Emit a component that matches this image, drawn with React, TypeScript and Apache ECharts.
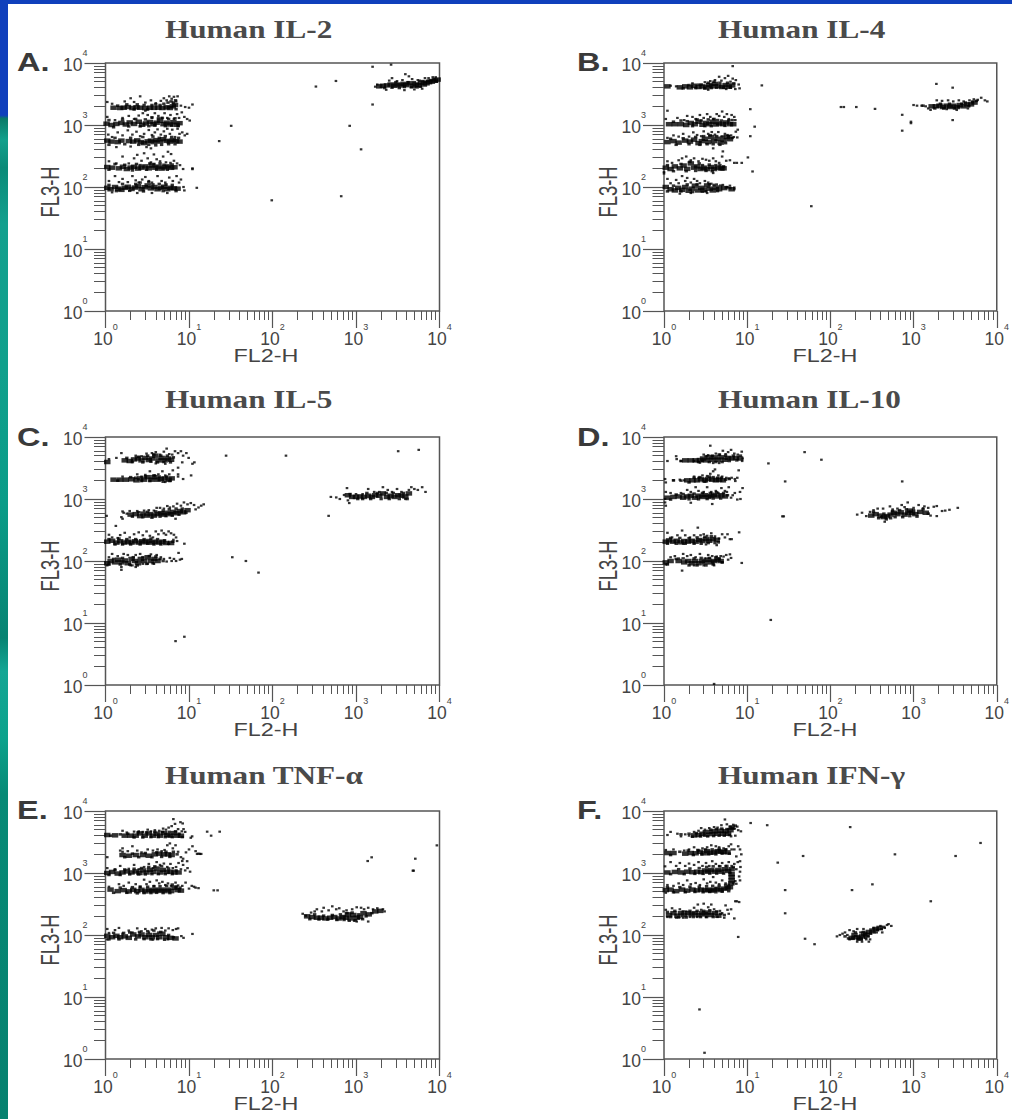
import React, { useEffect, useRef } from "react";
import * as echarts from "echarts";

const TITLES = ["Human IL-2", "Human IL-4", "Human IL-5", "Human IL-10", "Human TNF-α", "Human IFN-γ"];
const LETTERS = ["A.", "B.", "C.", "D.", "E.", "F."];
const X_NAME = "FL2-H";
const Y_NAME = "FL3-H";
const TICK_EXPONENTS = [0, 1, 2, 3, 4];
const MAJOR_TICKS = [1, 10, 100, 1000, 10000];
const MINOR_TICKS = [2,3,4,5,6,7,8,9,20,30,40,50,60,70,80,90,200,300,400,500,600,700,800,900,2000,3000,4000,5000,6000,7000,8000,9000];

const aDense = [
[1.05,97],[1.15,92],[1.3,100],[1.42,94],[1.55,90],[1.7,97],[1.85,101],[2.05,93],[2.25,98],[2.45,103],[2.7,92],[2.95,99],[3.2,106],[3.5,95],[3.85,100],[4.2,92],[4.6,97],[5.05,101],[5.5,92],[6.0,97],[6.6,95],[7.3,94],
[1.05,210],[1.2,205],[1.45,200],[1.62,212],[1.8,195],[2.0,206],[2.2,212],[2.45,198],[2.7,205],[3.0,215],[3.3,200],[3.6,222],[3.95,205],[4.3,213],[4.7,198],[5.1,207],[5.6,215],[6.1,204],[6.7,208],
[1.05,560],[1.18,540],[1.4,530],[1.55,560],[1.9,550],[2.15,540],[2.4,565],[2.65,530],[2.9,510],[3.2,545],[3.5,560],[3.8,530],[4.1,570],[4.5,540],[4.9,590],[5.4,555],[5.9,540],[6.4,570],[7.0,550],[7.7,540],
[1.03,1050],[1.18,1000],[1.35,1040],[1.55,1080],[1.75,1020],[1.95,1100],[2.2,1040],[2.5,1130],[2.75,1010],[3.05,1060],[3.4,1120],[3.75,1030],[4.1,1090],[4.5,1170],[4.95,1030],[5.4,1090],[5.9,1020],[6.5,1110],[7.1,1010],[7.7,1070],
[1.25,1900],[1.5,1880],[1.65,1900],[1.85,1950],[2.1,1880],[2.35,1930],[2.6,1900],[3.0,1870],[3.4,1900],[3.8,1890],[4.3,1900],[4.8,1880],[5.4,1930],[5.9,1880],[6.4,2000],[6.8,2100],
[1900,4200],[2100,4300],[2350,4350],[2600,4500],[2850,4300],[3100,4500],[3400,4350],[3700,4600],[4000,4400],[4400,4700],[4800,4300],[5200,4500],[5600,4400],[6000,4800],[6500,4500],[7000,4700],[7500,4900],[8100,5000],[8800,5200],[9500,5400],
];
const aMid = [
[1.1,108],[1.35,86],[1.6,112],[1.95,87],[2.3,112],[2.6,118],[2.85,85],[3.3,120],[3.7,110],[4.4,112],[4.9,86],[5.3,110],[6.3,108],[7.0,86],
[1.1,190],[1.3,235],[1.7,228],[2.1,185],[2.35,235],[2.6,225],[3.1,190],[3.4,240],[3.8,235],[4.1,190],[4.5,240],[5.0,228],[5.5,190],[6.3,230],
[1.1,480],[1.3,620],[1.7,490],[2.0,620],[2.5,480],[2.8,640],[3.3,480],[3.7,650],[4.0,470],[4.4,620],[4.7,480],[5.2,660],[5.7,490],[6.2,640],[6.8,490],[7.5,620],
[1.1,1200],[1.25,920],[1.6,1220],[1.9,950],[2.3,1250],[2.6,950],[3.0,1230],[3.3,960],[3.6,1330],[3.9,980],[4.3,1280],[4.8,1300],[5.2,960],[5.7,1250],[6.2,980],[6.8,1280],[7.4,960],
[1.4,2050],[1.8,2150],[2.2,1780],[2.4,2150],[2.9,2100],[3.2,1780],[3.6,2100],[4.0,2150],[4.5,2100],[5.0,2200],[5.6,2300],[6.1,2400],[6.5,2300],[6.9,2500],[7.0,1800],
[2200,3950],[2700,4000],[3000,4900],[3300,3950],[3800,4100],[4200,4900],[4600,4050],[5000,4900],[5400,4050],[5900,4150],[6300,5100],[6800,5000],[7300,5200],[7900,5300],[8600,5500],[9200,5000],
];
const aSparse = [
[1580,8700],[2630,9400],[331,4170],[575,5130],[1580,2140],[32,970],[840,970],[23,550],[1150,405],[98,61],[665,71],[12.4,97],[11,194],[11,200],[11,2140],
[1.1,125],[1.3,150],[1.45,120],[1.6,135],[1.85,120],[2.1,150],[2.3,128],[2.5,118],[2.75,132],[3.0,145],[3.3,125],[3.6,118],[4.2,150],[4.7,125],[5.2,118],[5.8,142],[6.4,125],[7.1,150],[7.6,118],[8.0,132],[8.6,100],[8.8,88],[1.2,82],[2.4,80],[3.6,80],[5.5,80],
[1.1,260],[1.35,240],[1.6,310],[1.9,240],[2.2,290],[2.4,330],[2.7,265],[2.9,350],[3.2,290],[3.5,250],[3.8,335],[4.1,280],[4.5,260],[4.9,310],[5.3,250],[5.6,370],[6.1,340],[6.6,265],[7.2,240],[7.8,225],[8.5,195],[6.0,245],
[1.08,700],[1.2,640],[1.4,760],[1.6,680],[1.85,820],[2.1,700],[2.35,780],[2.6,660],[2.9,720],[3.3,830],[3.6,690],[3.9,760],[4.2,850],[4.6,700],[5.0,790],[5.5,870],[5.9,720],[6.3,840],[6.8,640],[7.3,870],[7.7,720],[8.3,760],[8.9,680],[9.5,720],[1.35,440],[2.0,450],[3.1,440],[3.5,420],
[1.05,1350],[1.3,1200],[1.6,1300],[1.9,1400],[2.2,1250],[2.5,1420],[2.8,1550],[3.0,1700],[3.2,1450],[3.6,1300],[3.9,1550],[4.3,1400],[4.7,1300],[5.1,1550],[5.5,1300],[6.0,1450],[6.6,1250],[7.2,1500],[7.6,1300],[8.2,1600],[8.8,1350],[9.5,1250],[10.2,1180],
[1.05,2350],[1.2,2200],[1.7,2400],[2.0,2700],[2.2,2350],[2.6,2900],[3.0,2300],[3.5,2500],[4.0,2250],[4.6,2450],[5.0,2700],[5.4,2500],[5.8,2900],[6.2,2650],[6.6,2850],[7.0,2400],[7.3,2900],[8.0,2050],[9.0,1950],[10.0,1900],
[1700,4150],[1800,4500],[2500,5200],[2700,5700],[3100,5100],[3600,5300],[3900,6600],[4300,6100],[4700,5500],[5500,5300],[5800,5200],[6700,5700],[7400,5700],[8300,5900],[9000,5900],[2300,3700],[3800,3650],[5000,3750],[6200,3850],
];

const bDense = [
[1.05,100],[1.2,92],[1.35,88],[1.48,97],[1.65,90],[1.8,100],[1.98,87],[2.15,94],[2.35,105],[2.55,88],[2.8,97],[3.0,90],[3.3,106],[3.55,94],[3.85,88],[4.2,98],[4.6,92],[5.3,96],[6.5,92],
[1.05,205],[1.2,195],[1.35,215],[1.55,200],[1.72,222],[1.9,196],[2.1,240],[2.3,205],[2.5,215],[2.75,195],[3.0,205],[3.3,195],[3.65,210],[4.0,195],[4.4,205],[4.9,198],[5.2,200],
[1.1,530],[1.3,550],[1.5,520],[1.8,560],[2.05,540],[2.3,580],[2.6,510],[2.85,550],[3.1,600],[3.4,530],[3.7,640],[4.0,550],[4.4,600],[4.8,520],[5.2,570],[5.7,640],[6.2,590],
[1.15,1030],[1.35,1030],[1.6,1030],[1.85,1000],[2.1,1080],[2.35,1030],[2.6,1130],[2.9,1010],[3.2,1080],[3.5,1030],[3.85,1130],[4.2,1020],[4.6,1060],[5.1,1030],[5.6,1100],[6.2,1030],[6.8,1030],
[1.1,4200],[1.55,4050],[1.8,4200],[2.05,4050],[2.3,4300],[2.6,4100],[2.9,4200],[3.2,4050],[3.5,4400],[3.8,4200],[4.1,4600],[4.5,4250],[5.0,4100],[5.5,4400],[6.0,4150],[6.6,4350],
[1650,2000],[1850,2000],[2050,2050],[2250,1950],[2500,2050],[2750,1950],[3000,2050],[3300,1950],[3600,2100],[4000,2000],[4400,2150],[4900,2150],[5400,2300],
];
const bMid = [
[1.1,85],[1.3,105],[1.6,85],[1.9,110],[2.2,83],[2.5,110],[2.9,84],[3.2,85],[3.5,110],[4.0,108],[4.4,86],[4.8,105],[5.6,98],[6.2,96],
[1.1,225],[1.3,180],[1.6,235],[1.85,180],[2.05,255],[2.4,182],[2.65,240],[2.9,225],[3.2,182],[3.5,230],[3.8,180],[4.2,225],[4.7,225],[5.2,215],
[1.2,600],[1.4,480],[1.7,610],[2.0,490],[2.4,640],[2.7,480],[3.0,660],[3.3,490],[3.6,680],[3.9,490],[4.3,660],[4.7,480],[5.1,650],[5.5,510],[6.0,660],[6.6,620],
[1.3,1130],[1.6,1180],[1.9,1150],[2.2,960],[2.5,1230],[2.8,1180],[3.1,960],[3.4,1230],[3.7,960],[4.0,1250],[4.4,1200],[4.9,1180],[5.4,970],[6.0,1180],[6.6,1200],
[1.7,3900],[2.0,4400],[2.4,3950],[2.8,4500],[3.1,3900],[3.4,4800],[3.7,3950],[4.0,5000],[4.3,4000],[4.7,4800],[5.2,4000],[5.8,4800],[6.3,4000],[6.9,4700],
[1800,1850],[2100,2200],[2300,1850],[2700,2200],[3100,1850],[3500,1950],[3800,2200],[4200,2300],[4600,2000],[5100,2350],[5700,2450],[1300,2050],
];
const bSparse = [
[6.7,8900],[15,4350],[10.9,1800],[12.3,940],[10.9,660],[10.2,300],[11.6,178],[8.6,245],[7.5,245],[134,1950],[145,1950],[205,1950],[344,1820],[59,49],[730,1460],[930,1070],[930,1130],[730,810],[1880,4600],[2950,4000],[2950,1200],
[1.1,135],[1.2,115],[1.4,130],[1.5,115],[1.65,150],[1.8,125],[1.9,140],[2.1,118],[2.3,135],[2.5,125],[2.7,115],[3.1,125],[3.4,118],[3.7,113],[4.3,110],[5.1,108],[5.8,100],[6.2,105],[7.0,98],[7.0,92],[1.55,78],[2.1,80],[3.3,80],
[1.1,260],[1.25,245],[1.5,270],[1.65,290],[1.85,310],[2.1,270],[2.3,290],[2.6,260],[2.9,285],[3.2,275],[3.5,265],[3.9,290],[4.2,260],[4.6,245],[5.0,310],[5.6,265],[6.2,270],[7.0,245],[1.0,175],[1.0,165],[3.9,168],
[1.1,620],[1.3,680],[1.5,650],[1.7,720],[2.0,650],[2.25,760],[2.5,690],[2.8,660],[3.0,790],[3.4,720],[3.75,770],[4.1,700],[4.5,770],[4.9,650],[5.4,720],[5.8,690],[6.4,680],[6.9,640],[7.3,780],[7.7,840],[7.6,630],[3.9,420],[5.1,375],
[1.05,1250],[1.1,1700],[1.45,1300],[1.75,1200],[1.9,1400],[2.2,1350],[2.4,1250],[2.7,1450],[3.0,1300],[3.3,1500],[3.6,1350],[3.9,1250],[4.3,1500],[4.6,1400],[5.0,1650],[5.3,1350],[5.7,1500],[6.0,1250],[6.5,1450],[7.0,1350],[7.2,1200],
[1.2,4300],[1.4,4200],[2.2,4700],[2.6,4500],[3.1,4900],[3.6,5100],[4.1,5300],[4.6,6000],[4.9,5200],[5.4,5700],[5.9,6200],[6.3,5000],[6.7,5600],[7.3,5300],[7.9,4500],[7.2,3800],[8.1,3900],[5.6,3800],[3.4,3700],
[1000,2100],[1100,2050],[1250,2050],[1400,2000],[1500,1850],[1900,2500],[2200,2450],[2600,2500],[3000,2400],[3500,2500],[4000,2400],[4700,2500],[5300,2600],[5900,2550],[6500,2750],[7200,2500],[7700,2400],[1600,1750],[2500,1800],[3300,1750],[4500,1850],
];

const cDense = [
[1.05,92],[1.15,100],[1.3,95],[1.42,105],[1.55,95],[1.7,102],[1.85,92],[2.05,108],[2.25,100],[2.45,92],[2.65,108],[2.9,100],[3.2,115],[3.5,100],[3.85,108],[4.2,100],
[1.05,205],[1.2,212],[1.35,198],[1.5,208],[1.68,198],[1.85,205],[2.05,198],[2.25,208],[2.5,198],[2.75,208],[3.0,200],[3.3,210],[3.6,198],[3.95,205],[4.35,198],[4.8,205],[5.3,195],[6.1,195],
[2.0,560],[2.3,570],[2.6,530],[2.85,580],[3.15,540],[3.45,570],[3.8,540],[4.2,570],[4.6,590],[5.0,560],[5.5,600],[6.0,570],[6.5,620],[7.1,590],[7.8,640],[8.5,610],[9.6,660],
[1.25,2050],[1.5,2050],[1.75,2050],[2.05,2080],[2.35,2000],[2.6,2150],[2.9,2050],[3.2,2250],[3.55,2050],[3.85,2250],[4.2,2050],[4.6,2100],[5.1,2150],[5.7,2050],[6.2,2150],
[1.7,4200],[1.95,4100],[2.2,4350],[2.45,4500],[2.7,4200],[3.0,4600],[3.3,4250],[3.6,4500],[3.95,5000],[4.3,4200],[4.7,4600],[5.1,4200],[5.6,4500],[6.1,4300],[1.05,3950],
[800,1150],[900,1080],[1000,1080],[1120,1100],[1250,1080],[1400,1130],[1550,1080],[1700,1150],[1900,1130],[2100,1230],[2350,1080],[2600,1130],[2900,1080],[3200,1150],[3500,1130],[3900,1100],[4300,1230],
];
const cMid = [
[1.1,88],[1.25,108],[1.5,88],[1.6,112],[1.95,88],[2.15,115],[2.4,85],[2.8,115],[3.1,90],[3.35,120],[3.7,92],[4.0,118],[4.5,108],[4.9,100],
[1.1,225],[1.3,185],[1.45,230],[1.6,185],[1.8,225],[2.0,185],[2.3,225],[2.6,185],[2.9,225],[3.2,190],[3.5,230],[3.8,185],[4.2,225],[4.6,185],[5.1,215],[5.7,190],[6.4,205],
[2.1,520],[2.5,610],[2.8,510],[3.2,620],[3.6,500],[4.0,630],[4.5,520],[4.9,650],[5.3,530],[5.8,680],[6.3,540],[7.0,700],[7.6,560],[8.3,700],[9.2,600],
[1.4,1980],[2.0,2250],[2.3,2200],[2.7,1950],[3.0,2300],[3.4,1950],[3.8,2400],[4.4,2300],[4.9,1900],[5.4,2300],[5.9,1950],
[1.8,4600],[2.1,3950],[2.5,4800],[2.8,3900],[3.2,5000],[3.5,4000],[3.8,5200],[4.2,3900],[4.6,5000],[5.0,3950],[5.5,5000],[6.0,3900],[6.5,4700],
[850,1200],[1050,1000],[1200,1000],[1350,1250],[1500,1000],[1800,1250],[2000,1000],[2300,1250],[2500,1000],[2800,1250],[3300,1000],[3700,1250],[4100,1000],
];
const cSparse = [
[27.8,5000],[145,5000],[3200,5900],[5640,6200],[33,115],[48,100],[68,65],[6.9,5.1],[8.8,6],[470,535],[1.33,368],[1.03,535],[8.8,190],[10.6,2400],[11.6,3900],[11,3700],
[1.05,85],[1.1,115],[1.2,130],[1.4,120],[1.55,80],[1.65,130],[1.85,125],[2.1,85],[2.3,80],[2.3,125],[2.6,130],[2.8,90],[3.2,90],[3.5,128],[3.8,90],[4.1,125],[4.6,115],[5.0,108],[5.4,98],[5.9,112],[6.2,100],[6.6,108],[7.0,100],[7.8,105],[8.2,108],[7.5,135],[1.55,72],[2.0,85],
[1.1,265],[1.2,240],[1.4,235],[1.5,262],[1.7,285],[1.95,240],[2.2,270],[2.5,290],[2.8,260],[3.1,300],[3.4,255],[3.7,240],[4.0,300],[4.3,270],[4.7,310],[5.0,280],[5.3,265],[5.7,300],[6.1,280],[6.6,265],[7.0,240],[7.2,210],[6.5,220],
[1.6,630],[1.55,510],[1.65,600],[1.8,580],[1.95,640],[2.4,640],[2.9,650],[3.3,660],[3.8,650],[4.1,720],[4.5,720],[5.0,700],[5.5,770],[5.9,730],[6.5,760],[7.2,840],[8.0,780],[8.7,880],[9.6,820],[10.5,860],[11.5,800],[13,730],[14,780],[15,820],[12,680],[6.9,480],[1.6,480],
[2.4,2500],[2.7,2300],[3.0,2450],[3.4,2800],[3.9,2400],[4.3,2500],[4.8,2800],[5.2,2400],[5.8,2500],[6.4,2900],[7.4,3200],[7.4,2500],[7.4,2300],[8.5,2100],[5.2,1880],[1.6,2300],
[1.1,4400],[1.35,4600],[1.55,5500],[2.3,5000],[2.7,4900],[3.1,5400],[3.6,5500],[4.0,5700],[4.5,5200],[5.0,5800],[5.4,6500],[5.8,5300],[6.3,5200],[6.8,5900],[7.4,5500],[8.0,5900],[8.5,5000],[9.3,5500],[9.9,4600],[8.3,3900],[5.2,3700],[4.0,3750],
[500,1080],[580,1060],[640,1000],[720,1160],[780,1500],[800,950],[830,860],[1000,1200],[1200,1200],[1400,1450],[1650,1300],[1900,1300],[2100,1550],[2400,1400],[2700,1300],[3100,1450],[3500,1300],[3900,1000],[4300,1400],[4600,1550],[5000,1450],[5500,1400],[6200,1550],[6800,1300],
];

const dDense = [
[1.05,95],[1.2,100],[1.5,100],[1.75,95],[1.95,100],[2.15,92],[2.35,100],[2.6,92],[2.85,100],[3.1,95],[3.4,105],[3.7,95],[4.0,100],[4.4,105],[4.8,100],
[1.05,205],[1.15,215],[1.28,205],[1.42,212],[1.58,200],[1.75,210],[1.95,205],[2.15,212],[2.4,205],[2.65,218],[2.9,210],[3.2,225],[3.5,212],[3.85,225],[4.3,220],
[1.1,1050],[1.3,1080],[1.5,1100],[1.7,1050],[1.9,1100],[2.1,1130],[2.35,1050],[2.6,1130],[2.85,1080],[3.1,1150],[3.4,1080],[3.7,1120],[4.0,1170],[4.4,1100],[4.9,1150],[5.4,1100],
[1.9,2000],[2.2,2000],[2.5,2000],[2.8,2080],[3.1,2000],[3.4,2100],[3.8,2050],[4.2,2000],[4.6,2050],[5.1,2000],
[1.8,4200],[2.1,4200],[2.4,4200],[2.7,4250],[2.95,4500],[3.2,4200],[3.5,4700],[3.8,4300],[4.1,4700],[4.5,4300],[4.9,4700],[5.4,4300],[5.9,4600],[6.5,4500],[7.3,4600],[8.2,4500],
[310,540],[350,570],[400,540],[440,510],[480,530],[530,560],[580,600],[640,570],[700,610],[780,560],[860,600],[960,600],[1050,570],[1200,620],[1400,600],[900,650],
];
const dMid = [
[1.1,88],[1.4,108],[1.7,110],[2.0,85],[2.3,110],[2.5,85],[2.8,112],[3.2,85],[3.5,112],[3.9,88],[4.2,115],[4.6,110],[5.0,95],
[1.1,190],[1.2,235],[1.4,190],[1.55,235],[1.8,190],[2.0,232],[2.3,190],[2.5,240],[2.8,190],[3.1,245],[3.4,195],[3.7,250],[4.1,195],[4.5,200],
[1.2,980],[1.4,1180],[1.7,1200],[2.0,990],[2.3,1220],[2.6,990],[2.9,1250],[3.3,1000],[3.6,1250],[3.9,1020],[4.3,1280],[4.8,1020],[5.2,1250],[5.8,1150],
[1.3,2000],[1.6,1980],[2.0,1850],[2.3,2200],[2.7,2250],[3.1,1900],[3.5,2300],[3.9,2250],[4.4,2200],[4.9,2200],[5.5,2050],[6.1,2100],
[1.6,4100],[2.6,3950],[2.9,4100],[3.2,4900],[3.5,3950],[3.8,5000],[4.2,3950],[4.6,5200],[5.0,3950],[5.5,5000],[6.1,4100],[6.8,5000],[7.5,4200],[8.3,5000],
[330,620],[380,490],[440,580],[470,470],[530,490],[560,640],[600,510],[680,660],[740,510],[820,680],[900,530],[1000,660],[1100,520],[1300,680],[1500,580],
];
const dSparse = [
[3.6,7240],[49,5700],[78,4300],[18,3750],[28.6,1920],[730,1920],[26.5,525],[27.5,525],[19.2,11.2],[4,1.04],[8.6,93],[8,290],
[1.05,88],[1.2,115],[1.35,120],[1.5,110],[1.7,130],[1.9,120],[2.1,125],[2.4,115],[2.7,130],[3.1,110],[3.4,125],[3.8,120],[4.3,118],[4.8,120],[5.2,118],[5.6,125],[5.9,105],[6.2,128],[6.4,112],[1.65,70],[2.3,85],[3.0,85],[4.0,85],[5.0,95],
[1.1,285],[1.25,240],[1.45,260],[1.65,310],[1.8,260],[2.05,240],[2.3,260],[2.55,345],[2.75,260],[3.0,270],[3.3,255],[3.7,280],[4.1,250],[4.6,230],[5.0,270],[5.4,240],[5.8,270],[6.2,225],[6.5,225],[1.7,190],[3.2,185],[4.3,180],
[1.03,1000],[1.03,880],[1.05,780],[1.05,1300],[1.2,1250],[1.6,1250],[1.9,1400],[2.1,1300],[2.4,1550],[2.6,1350],[3.0,1300],[3.3,1550],[3.7,1300],[4.2,1350],[4.5,1250],[4.9,1500],[5.4,1350],[5.7,1300],[6.0,1550],[6.4,1050],[6.7,1150],[7.1,1250],[7.6,980],[8.2,1300],[8.8,1500],[8.3,1000],[3.8,830],[2.1,870],
[1.03,2100],[1.05,1850],[1.3,2000],[1.55,2050],[1.75,2000],[2.3,2300],[2.6,2200],[2.9,2400],[3.3,2350],[3.6,2550],[3.9,2800],[4.1,3000],[4.5,2400],[5.0,2300],[5.6,2200],[6.0,2150],[6.5,2200],[7.1,2100],[7.6,2200],[7.9,2900],[7.2,1950],
[1.1,4100],[1.4,4900],[1.42,4400],[1.6,4100],[2.3,4100],[2.7,3850],[3.0,5200],[3.4,5100],[3.9,3800],[4.2,5400],[4.7,5200],[5.1,6000],[5.5,5300],[5.9,5700],[6.4,6200],[7.0,5400],[7.7,5200],[8.6,5800],[8.8,4500],[8.7,4100],[4.6,3800],
[210,560],[240,600],[270,530],[300,620],[330,660],[370,700],[410,510],[450,430],[430,700],[520,760],[560,680],[640,700],[720,800],[850,880],[780,740],[1000,720],[1150,800],[1300,710],[1350,760],[1500,720],[1600,540],[1750,750],[1900,770],[2200,640],[2400,650],[2700,670],[3400,720],[1900,530],
];

const eDense = [
[1.05,97],[1.2,92],[1.35,97],[1.5,92],[1.7,95],[1.9,90],[2.15,102],[2.45,95],[2.7,102],[3.0,92],[3.3,100],[3.6,92],[4.0,100],[4.4,92],[4.8,105],[5.3,92],[6.0,90],[6.9,88],
[1.15,540],[1.4,510],[1.65,530],[1.9,505],[2.15,535],[2.4,510],[2.7,535],[3.0,505],[3.3,535],[3.6,510],[3.95,540],[4.3,515],[4.7,540],[5.1,510],[5.6,540],[6.1,510],[6.7,580],[7.3,530],[8.0,520],
[1.05,1000],[1.2,1040],[1.4,980],[1.6,1020],[1.8,1060],[2.05,1020],[2.3,1060],[2.55,1000],[2.8,1100],[3.1,1020],[3.4,1120],[3.75,1040],[4.1,1180],[4.5,1020],[4.9,1120],[5.4,1040],[6.0,1050],[6.7,1020],[7.5,1020],
[1.6,1950],[1.9,1900],[2.3,1950],[2.8,1950],[3.3,1900],[3.9,2000],[4.4,2050],[5.0,2000],[5.6,2000],[6.2,1950],
[1.05,4100],[1.3,4050],[1.7,4000],[2.0,4000],[2.3,4000],[2.6,4350],[2.95,4000],[3.3,4350],[3.7,4000],[4.1,4300],[4.5,4000],[5.0,4400],[5.5,4100],[6.0,4000],[6.6,4400],[7.2,4000],[8.0,4000],
[260,200],[300,195],[340,190],[380,190],[430,185],[490,190],[550,195],[620,185],[690,195],[750,190],[800,215],[860,185],[930,210],[1020,190],[1120,195],[1230,225],[1420,215],[1700,240],[1950,245],
];
const eMid = [
[1.1,85],[1.25,108],[1.45,85],[1.65,108],[1.95,110],[2.3,85],[2.55,112],[2.9,86],[3.2,115],[3.5,85],[3.8,118],[4.2,86],[4.6,112],[5.1,84],[5.7,100],[6.5,92],
[1.25,480],[1.5,580],[1.8,480],[2.1,590],[2.4,470],[2.6,600],[2.9,475],[3.2,600],[3.5,475],[3.8,610],[4.1,480],[4.5,610],[4.9,475],[5.4,620],[5.9,475],[6.3,650],[7.0,600],[7.8,580],
[1.1,930],[1.3,1120],[1.5,930],[1.7,1140],[1.95,950],[2.2,1170],[2.5,950],[2.7,1200],[3.0,950],[3.3,1250],[3.6,960],[3.9,1280],[4.3,960],[4.7,1280],[5.2,960],[5.7,1180],[6.3,960],[7.0,1100],
[1.7,1800],[2.1,2050],[2.5,1800],[3.0,2100],[3.6,1800],[4.1,2150],[4.7,1820],[5.3,2200],[5.9,1820],[6.5,2200],[7.2,2000],
[1.15,4000],[1.5,4200],[1.85,4300],[2.2,3750],[2.45,4500],[2.8,3750],[3.1,4500],[3.5,3800],[3.9,4600],[4.3,3800],[4.8,4600],[5.2,3800],[5.8,4600],[6.3,3800],[6.9,4700],[7.6,4300],[8.3,3800],
[280,180],[320,215],[360,178],[410,205],[460,178],[520,210],[590,175],[650,215],[720,175],[780,225],[830,170],[900,230],[980,172],[1080,215],[1200,180],[1320,200],[1550,225],
];
const eSparse = [
[16.5,4640],[18.4,4000],[23.3,4640],[10.9,3900],[19.8,525],[22,525],[11,104],[1380,1560],[1540,1790],[5130,1700],[4800,1090],[4900,1090],[9300,2790],[13.5,2030],[12.5,2030],[11.5,600],[13,570],
[1.05,125],[1.1,108],[1.3,120],[1.45,130],[1.6,105],[1.9,118],[2.1,110],[2.4,128],[2.7,115],[3.0,125],[3.3,110],[3.6,122],[4.0,128],[4.3,110],[4.7,130],[5.2,118],[5.7,128],[6.4,120],[7.0,125],[7.4,128],[8.1,96],[8.6,90],[1.05,85],[5.6,85],[3.7,84],
[1.1,600],[1.45,660],[1.65,620],[1.9,700],[2.3,660],[2.6,600],[2.9,780],[3.1,660],[3.4,720],[3.8,620],[4.1,760],[4.4,680],[4.8,720],[5.2,640],[5.6,680],[6.1,620],[6.9,700],[7.4,630],[8.3,620],[9.1,700],[10,560],[10.8,620],[12,580],
[1.05,1200],[1.3,1150],[1.5,1300],[1.9,1170],[2.2,1350],[2.5,1150],[2.9,1250],[3.3,1400],[3.7,1200],[4.1,1500],[4.5,1350],[5.0,1420],[5.5,1250],[6.0,1400],[6.4,1200],[7.0,1250],[7.5,1450],[8.0,1150],[8.5,1350],[9.0,1100],[9.6,1200],[10.3,1050],[1.05,1800],
[1.5,2300],[1.6,2500],[1.6,2200],[1.85,2250],[2.1,2700],[2.4,2300],[2.7,2150],[3.2,2400],[3.7,2300],[4.2,2400],[4.7,2250],[5.1,2350],[5.5,2800],[5.9,3000],[6.4,2500],[6.9,2800],[7.4,2200],[8.0,1800],[8.5,1700],[9.2,2150],[10,2400],[11,2700],[12,2250],[13,2050],[14,2030],[9.5,1550],[8.3,1560],
[1.6,4800],[1.8,4500],[2.2,4650],[2.5,4700],[2.8,4600],[3.2,5000],[3.5,4700],[3.9,4900],[4.4,4800],[4.9,5200],[5.3,5000],[5.7,5400],[6.2,5700],[6.5,7400],[6.8,6200],[7.4,5100],[7.9,6600],[8.4,6300],[8.2,4700],[8.6,5100],[9.0,4600],[10.5,3700],
[230,220],[250,205],[290,230],[320,240],[340,260],[390,240],[410,275],[470,250],[520,290],[580,260],[630,270],[710,240],[770,250],[900,260],[1020,280],[1150,275],[1250,260],[1400,275],[1600,260],[1800,270],[2100,260],[1400,165],[1020,165],[950,170],[2200,240],
];

const fDense = [
[1.15,210],[1.3,225],[1.45,205],[1.6,225],[1.75,210],[1.95,225],[2.15,215],[2.35,225],[2.6,210],[2.85,225],[3.1,215],[3.4,230],[3.7,210],[4.1,225],[4.5,205],
[1.05,530],[1.2,540],[1.4,510],[1.65,540],[1.9,520],[2.2,540],[2.5,525],[2.8,540],[3.1,525],[3.4,540],[3.7,520],[4.0,540],[4.4,555],[4.8,530],[5.3,560],[5.8,570],[6.2,590],[6.45,680],[6.5,760],[6.5,860],[6.5,960],
[1.1,1020],[1.35,1040],[1.6,1020],[1.9,1050],[2.2,1030],[2.5,1050],[2.8,1030],[3.1,1100],[3.4,1050],[3.7,1120],[4.1,1050],[4.5,1120],[4.9,1050],[5.4,1150],[5.9,1080],[6.5,1150],
[1.1,2100],[1.3,2100],[1.8,2050],[2.1,2100],[2.4,2080],[2.7,2200],[3.0,2080],[3.3,2250],[3.6,2120],[4.0,2150],[4.4,2250],[4.8,2200],[5.2,2200],[5.8,2150],
[2.3,4050],[2.6,4100],[2.9,4300],[3.2,4150],[3.5,4600],[3.8,4250],[4.1,4700],[4.4,4300],[4.8,4800],[5.1,4300],[5.5,4700],[5.9,4300],[6.3,4900],[6.5,5400],
[180,90],[195,100],[210,92],[225,88],[240,95],[255,105],[270,100],[290,112],[320,118],[350,125],[390,130],
];
const fMid = [
[1.1,235],[1.2,195],[1.35,245],[1.5,192],[1.7,240],[1.85,192],[2.05,245],[2.25,195],[2.5,245],[2.75,195],[3.0,245],[3.25,195],[3.55,250],[3.9,195],[4.3,240],[4.8,220],[5.3,210],
[1.1,590],[1.3,490],[1.55,590],[1.8,490],[2.05,600],[2.35,495],[2.65,600],[2.95,490],[3.25,610],[3.55,495],[3.85,620],[4.2,490],[4.6,620],[5.0,500],[5.5,640],[6.0,510],
[1.2,960],[1.5,1150],[1.75,960],[2.05,1180],[2.35,970],[2.65,1200],[2.95,970],[3.25,1250],[3.55,980],[3.9,1280],[4.3,980],[4.7,1280],[5.2,980],[5.7,1300],[6.2,1000],[6.8,1250],
[1.2,1950],[1.55,2200],[1.95,2300],[2.25,1950],[2.55,2350],[2.85,2000],[3.15,2400],[3.45,2000],[3.8,2400],[4.2,2000],[4.6,2450],[5.0,2050],[5.5,2400],[6.1,2050],
[2.2,3850],[2.45,4400],[2.75,3900],[3.05,4700],[3.35,3900],[3.65,5000],[3.95,3950],[4.25,5100],[4.6,4000],[4.95,5200],[5.3,4000],[5.7,5100],[6.1,4100],[6.6,5300],[7.2,5800],[2.0,4300],[1.6,4200],
[150,95],[165,88],[185,88],[200,110],[215,85],[235,85],[250,112],[265,90],[285,95],[305,105],[335,110],[370,120],[410,125],[440,135],
];
const fSparse = [
[11,6400],[17.4,5900],[173,5500],[23.3,1470],[47,1880],[597,2000],[3200,1880],[6380,3050],[28.6,530],[182,530],[320,656],[1610,350],[28.6,224],[7.8,93],[49.6,87],[64.5,71],[2.67,6.3],[3.07,1.26],
[1.05,255],[1.1,195],[1.25,270],[1.4,190],[1.55,260],[1.7,190],[1.85,240],[2.05,195],[2.3,275],[2.5,195],[2.55,310],[2.8,255],[3.0,320],[3.2,195],[3.4,280],[3.7,310],[4.0,260],[4.4,195],[4.7,245],[5.0,225],[5.3,190],[5.5,300],[5.8,255],[6.0,220],[6.4,260],[7.0,185],[7.2,350],[8.0,340],[7.5,350],
[1.05,480],[1.1,640],[1.3,620],[1.5,680],[1.7,640],[1.9,760],[2.1,660],[2.4,690],[2.7,640],[3.0,790],[3.3,680],[3.6,720],[3.9,860],[4.2,700],[4.6,660],[5.0,760],[5.5,680],[6.0,650],[6.8,680],[7.4,670],[8.0,880],[8.2,760],[7.2,740],
[1.03,1280],[1.2,1500],[1.4,1300],[1.55,1450],[1.8,1300],[2.0,1420],[2.3,1350],[2.6,1500],[2.9,1300],[3.2,1450],[3.5,1300],[3.8,1550],[4.2,1400],[4.6,1300],[5.0,1450],[5.5,1300],[6.0,1500],[6.5,1300],[7.0,1400],[7.4,1150],[7.7,1500],[8.2,1550],[8.3,1250],[8.2,1050],
[1.05,2350],[1.3,2400],[1.75,2300],[2.0,2400],[2.3,2600],[2.6,2300],[2.9,2500],[3.3,2600],[3.7,2800],[4.2,2700],[4.6,2600],[5.2,2500],[5.6,2400],[6.0,2700],[6.4,2900],[6.5,2400],[7.0,2400],[7.8,2700],[8.2,2400],[8.5,2000],[7.4,1850],
[1.1,4100],[1.2,4600],[1.45,4300],[1.6,3900],[1.8,4200],[2.0,4000],[2.3,4600],[2.6,4800],[2.8,5300],[3.1,5000],[3.5,5300],[4.0,5500],[4.4,5400],[4.9,5900],[5.4,7300],[5.7,6100],[6.3,5600],[6.8,6000],[7.1,5200],[7.8,4900],[8.4,4700],[6.4,3900],[7.2,4000],[7.6,5600],
[120,95],[130,100],[140,105],[150,110],[160,100],[170,120],[190,115],[210,125],[230,110],[250,125],[270,85],[300,85],[330,130],[360,110],[400,140],[450,130],[480,145],[540,140],[500,150],[420,110],[170,85],[210,78],[240,78],[290,78],
];

const DENSE = [aDense, bDense, cDense, dDense, eDense, fDense];
const MID = [aMid, bMid, cMid, dMid, eMid, fMid];
const SPARSE = [aSparse, bSparse, cSparse, dSparse, eSparse, fSparse];

const LEFT_X = [105.5, 664];
const TOP_Y = [63, 437, 811];
const GRID_W = 334;
const GRID_H = 248;
const INK = "#555";
const TEXT = "#444";

function decadeLabel(v: number) {
  const e = TICK_EXPONENTS.find((k) => Math.abs(Math.pow(10, k) - v) < 1e-6 * v);
  return e === undefined ? "" : `{b|10}{s|${e}}`;
}
const rich = {
  b: { fontFamily: "Liberation Sans", fontSize: 17.5, color: TEXT, lineHeight: 26, verticalAlign: "bottom" as const },
  s: { fontFamily: "Liberation Sans", fontSize: 9, color: TEXT, verticalAlign: "top" as const },
};

function buildOption() {
  const grid: any[] = [], xAxis: any[] = [], yAxis: any[] = [], series: any[] = [], graphic: any[] = [];
  graphic.push({
    type: "rect", silent: true, z: -10, shape: { x: 0, y: 0, width: 1012, height: 4 },
    style: { fill: "#1040bc" },
  });
  graphic.push({
    type: "rect", silent: true, z: -10, shape: { x: 0, y: 0, width: 8, height: 1119 },
    style: {
      fill: new echarts.graphic.LinearGradient(0, 0, 0, 1, [
        { offset: 0, color: "#1040bc" }, { offset: 0.103, color: "#1040bc" },
        { offset: 0.106, color: "#0a7a68" }, { offset: 0.125, color: "#12a08c" },
        { offset: 0.15, color: "#0b8a78" }, { offset: 0.2, color: "#13a08e" },
        { offset: 0.33, color: "#10a08c" }, { offset: 0.45, color: "#0a9c88" },
        { offset: 0.57, color: "#078372" }, { offset: 0.6, color: "#14a694" },
        { offset: 0.66, color: "#0ca28c" }, { offset: 0.71, color: "#078a76" },
        { offset: 1, color: "#06816f" },
      ]),
    },
  });
  for (let i = 0; i < 6; i++) {
    const col = i % 2, row = Math.floor(i / 2);
    const left = LEFT_X[col], top = TOP_Y[row];
    grid.push({ left, top, width: GRID_W, height: GRID_H, show: true, borderColor: INK, borderWidth: 1.5, backgroundColor: "transparent" });
    const common = { type: "log", logBase: 10, min: 1, max: 10000, gridIndex: i, splitLine: { show: false }, minorSplitLine: { show: false } };
    xAxis.push({
      ...common,
      position: "bottom",
      axisLine: { show: false },
      axisTick: { show: true, length: 17, customValues: MAJOR_TICKS, lineStyle: { color: INK, width: 1.2 } },
      axisLabel: { show: true, customValues: MAJOR_TICKS, formatter: decadeLabel, rich, margin: 11, padding: [0, 0, 4, 0], color: TEXT, showMinLabel: true, showMaxLabel: true, hideOverlap: false },
    });
    xAxis.push({
      ...common,
      position: "bottom",
      axisLine: { show: false },
      axisTick: { show: true, length: 9, customValues: MINOR_TICKS, lineStyle: { color: INK, width: 1 } },
      axisLabel: { show: false },
    });
    yAxis.push({
      ...common,
      position: "left",
      axisLine: { show: false },
      axisTick: { show: true, length: 21, customValues: MAJOR_TICKS, lineStyle: { color: INK, width: 1.2 } },
      axisLabel: { show: true, customValues: MAJOR_TICKS, formatter: decadeLabel, rich, margin: 18, padding: [0, 0, 4, 0], color: TEXT, showMinLabel: true, showMaxLabel: true, hideOverlap: false },
    });
    yAxis.push({
      ...common,
      position: "left",
      axisLine: { show: false },
      axisTick: { show: true, length: 11.5, customValues: MINOR_TICKS, lineStyle: { color: INK, width: 1 } },
      axisLabel: { show: false },
    });
    const xi = i * 2, yi = i * 2;
    series.push({ type: "scatter", xAxisIndex: xi, yAxisIndex: yi, data: DENSE[i], symbol: "rect", symbolSize: [6.5, 4.5], itemStyle: { color: "#000" }, silent: true, clip: true });
    series.push({ type: "scatter", xAxisIndex: xi, yAxisIndex: yi, data: MID[i], symbol: "rect", symbolSize: [3.4, 2.6], itemStyle: { color: "#000" }, silent: true, clip: true });
    series.push({ type: "scatter", xAxisIndex: xi, yAxisIndex: yi, data: SPARSE[i], symbol: "rect", symbolSize: [2.6, 2.2], itemStyle: { color: "#000" }, silent: true, clip: true });

    const dx = col === 0 ? 0 : 554;
    const titleLeft = col === 0 ? 165 : 718;
    const titleY = [29, 399, 775][row];
    graphic.push({
      type: "text", x: titleLeft, y: titleY, scaleX: 1.2, silent: true,
      style: { text: TITLES[i], fontFamily: "Liberation Serif", fontWeight: "bold", fontSize: 26, fill: "#4a4a4a", verticalAlign: "middle", align: "left" },
    });
    const letterY = [62, 437, 810][row];
    graphic.push({
      type: "text", x: col === 0 ? 17 : 577, y: letterY, scaleX: 1.3, silent: true,
      style: { text: LETTERS[i], fontFamily: "Liberation Sans", fontWeight: "bold", fontSize: 25, fill: "#3a3a3a", verticalAlign: "middle", align: "left" },
    });
    const nameY = [356, 730, 1104][row];
    graphic.push({
      type: "text", x: 266 + dx + (col ? 5 : 0), y: nameY, scaleX: 1.23, silent: true,
      style: { text: X_NAME, fontFamily: "Liberation Sans", fontSize: 19, fill: TEXT, verticalAlign: "middle", align: "center" },
    });
    const yNameY = [192, 566, 940][row];
    graphic.push({
      type: "text", x: col ? 608 : 50, y: yNameY, rotation: Math.PI / 2, scaleX: 0.97, scaleY: 1.35, silent: true,
      style: { text: Y_NAME, fontFamily: "Liberation Sans", fontSize: 19, fill: TEXT, verticalAlign: "middle", align: "center" },
    });
  }
  return { animation: false, backgroundColor: "#fff", grid, xAxis, yAxis, series, graphic };
}

export default function App() {
  const ref = useRef<HTMLDivElement>(null);
  useEffect(() => {
    const chart = echarts.init(ref.current!, undefined, { renderer: "svg" });
    chart.setOption(buildOption() as any);
    return () => chart.dispose();
  }, []);
  return <div ref={ref} style={{ position: "absolute", left: 0, top: 0, width: 1012, height: 1119 }} />;
}
